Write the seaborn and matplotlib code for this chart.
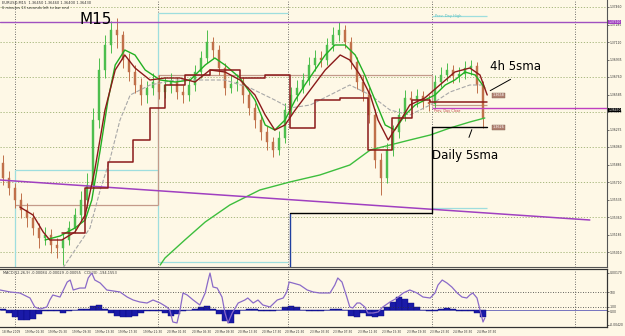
import numpy as np
import pandas as pd
import matplotlib
matplotlib.use("Agg")
import matplotlib.pyplot as plt
import seaborn as sns

sns.set_style("white")
plt.rcParams['font.family'] = ['DejaVu Sans']

# ---------------- data (time = hour index of the M15 chart) ----------------
first_open = 1.3590
close = [1.3575,1.3565,1.3553,1.3543,1.3535,1.3525,1.3515,1.3518,1.3508,1.3505,
         1.3513,1.3525,1.3538,1.3553,1.3568,1.3633,1.3683,1.3708,1.3723,1.3718,
         1.3693,1.3681,1.3668,1.3658,1.3665,1.3671,1.3661,1.3668,1.3671,1.3661,
         1.3658,1.3668,1.3681,1.3695,1.3711,1.3703,1.3685,1.3665,1.3669,1.3671,
         1.3658,1.3645,1.3633,1.3621,1.3611,1.3603,1.3615,1.3643,1.3658,1.3665,
         1.3673,1.3688,1.3695,1.3693,1.3708,1.3718,1.3723,1.3711,1.3691,1.3671,
         1.3661,1.3638,1.3593,1.3575,1.3603,1.3621,1.3638,1.3655,1.3653,1.3657,
         1.3651,1.3649,1.3671,1.3678,1.3683,1.3677,1.3679,1.3685,1.3687,1.3668,
         1.3635]
high = [1.3598,1.3582,1.3570,1.3560,1.3550,1.3541,1.3530,1.3526,1.3524,1.3515,
        1.3520,1.3532,1.3545,1.3562,1.3580,1.3645,1.3695,1.3718,1.3732,1.3735,
        1.3722,1.3700,1.3688,1.3675,1.3672,1.3680,1.3678,1.3676,1.3680,1.3676,
        1.3668,1.3675,1.3688,1.3702,1.3723,1.3716,1.3708,1.3690,1.3678,1.3679,
        1.3676,1.3662,1.3650,1.3638,1.3627,1.3616,1.3622,1.3650,1.3666,1.3673,
        1.3680,1.3696,1.3703,1.3702,1.3715,1.3726,1.3731,1.3728,1.3716,1.3696,
        1.3678,1.3666,1.3644,1.3600,1.3610,1.3628,1.3645,1.3663,1.3662,1.3664,
        1.3662,1.3658,1.3678,1.3686,1.3690,1.3688,1.3686,1.3692,1.3693,1.3691,
        1.3672]
low = [1.3568,1.3558,1.3545,1.3535,1.3526,1.3518,1.3505,1.3508,1.3500,1.3495,
       1.3488,1.3508,1.3520,1.3532,1.3545,1.3562,1.3625,1.3675,1.3700,1.3705,
       1.3685,1.3672,1.3660,1.3648,1.3650,1.3658,1.3654,1.3655,1.3660,1.3654,
       1.3650,1.3652,1.3662,1.3675,1.3690,1.3695,1.3678,1.3658,1.3660,1.3662,
       1.3650,1.3638,1.3625,1.3613,1.3603,1.3596,1.3598,1.3610,1.3638,1.3652,
       1.3660,1.3668,1.3682,1.3686,1.3688,1.3702,1.3712,1.3705,1.3684,1.3664,
       1.3652,1.3630,1.3585,1.3558,1.3570,1.3597,1.3615,1.3632,1.3645,1.3646,
       1.3644,1.3642,1.3645,1.3666,1.3672,1.3670,1.3671,1.3674,1.3678,1.3660,
       1.3625]

fast_t = [7,9.5,12,13.7,14.8,16.2,17.5,18.7,20.3,22,23.7,26.2,28.7,31.2,33.7,35.3,37,39.5,42,43.7,
          45.3,47,48.7,50.3,52,53.7,55.3,57,58.7,60.3,62,63.7,65.3,67,68.7,70.3,72,73.7,75.3,77,78.7,80.3]
fast_v = [1.3513,1.3517,1.3525,1.3533,1.3553,1.3603,1.3653,1.3688,1.3703,1.3698,1.3683,1.3673,1.3671,
          1.3673,1.3688,1.3695,1.3688,1.3675,1.3653,1.3628,1.3623,1.3633,1.3653,1.3668,1.3683,1.3698,
          1.3708,1.3708,1.3698,1.3678,1.3653,1.3628,1.3623,1.3638,1.3648,1.3653,1.3658,1.3668,1.3673,
          1.3681,1.3678,1.3665]

slow_t = [26.2,27,30.3,33.7,37.8,42.8,47.8,52.8,57.8,61.2,64.5,67.8,71.2,74.5,77.8,80.3]
slow_v = [1.3488,1.3495,1.3513,1.3531,1.3548,1.3563,1.3571,1.3578,1.3588,1.3603,1.3608,1.3613,
          1.3618,1.3625,1.3631,1.3635]

grey_t = [10,12,14.5,16.2,17.8,19.5,21.2,24.5,28.7,32.8,37,41.2,45.3,47.8,51.2,54.5,57.8,61.2,
          64.5,67.8,71.2,74.5,77.8,80.3]
grey_v = [1.3485,1.3503,1.3525,1.3563,1.3593,1.3633,1.3658,1.3668,1.3673,1.3673,1.3673,1.3665,
          1.3653,1.3645,1.3648,1.3658,1.3668,1.3658,1.3643,1.3638,1.3648,1.3661,1.3668,1.3668]

h4_t = [2.8,5,6.7,7.8,9.8,12,13.7,15.3,17,18.7,20.3,22,24.5,27,29.5,32,34.5,37,39.5,42,43.7,45.3,
        47,48.7,51.2,53.7,56.2,57.8,59.5,61.2,62.5,64.2,65.8,67.8,70.3,72.8,75.3,77.8,79.5,80.7]
h4_v = [1.3546,1.3538,1.3521,1.3513,1.3513,1.3521,1.3538,1.3583,1.3643,1.3683,1.3698,1.3685,1.3673,
        1.3675,1.3675,1.3671,1.3683,1.3681,1.3673,1.3658,1.3638,1.3623,1.3628,1.3643,1.3663,1.3683,
        1.3698,1.3693,1.3678,1.3658,1.3633,1.3613,1.3628,1.3648,1.3655,1.3668,1.3681,1.3685,1.3678,
        1.3658]

step_edges = [9.8,13.7,17.5,21.7,24.5,27,30.3,34.5,39.5,43.7,47.8,52,56.2,60.8,64.8,68.2,71.2,80.7]
step_levels = [1.3520,1.3565,1.3591,1.3613,1.3645,1.3668,1.3678,1.3683,1.3675,1.3678,1.3625,
               1.3653,1.3655,1.3603,1.3635,1.3653,1.3651]

daily_edges = [47.8, 71.5, 80.7]
daily_levels = [1.3540, 1.3626]

cyan_h = [(2, 25.8, 1.3583), (25.8, 47.5, 1.3740), (25.8, 47.5, 1.3491),
          (71.5, 80.7, 1.3737), (71.5, 80.7, 1.3545)]
cyan_v = [(2, 1.3486, 1.3583), (25.8, 1.3491, 1.3740)]
brown_h = [(2, 25.8, 1.3548), (25.8, 71.5, 1.3678), (71.5, 80.7, 1.3648)]
brown_v = [(25.8, 1.3548, 1.3678), (71.5, 1.3648, 1.3678)]

trend_t = [-0.5, 97.8]
trend_v = [1.3573, 1.3533]
resist_level = 1.3731
bid_level = 1.3645

day_breaks = [2, 25.8, 47.5, 71.5, 95.3]

macd = [0.0001,-0.0002,-0.0005,-0.0007,-0.0007,-0.0006,-0.0003,-0.0001,-0.00005,-0.0001,
        -0.0002,-0.0001,0.0,0.00005,0.0001,0.0003,0.00035,0.0001,-0.0002,-0.0004,
        -0.0005,-0.0005,-0.0004,-0.0002,-0.00005,-0.00005,-0.0001,-0.0002,-0.0004,-0.0003,
        -0.0001,0.0,0.00005,0.0002,0.00025,0.0001,-0.0003,-0.0008,-0.0009,-0.0003,
        0.0,0.0001,0.00005,-0.0001,-0.0001,-0.00005,0.0,0.0002,0.0003,0.0002,
        0.0,-0.00005,-0.0001,-0.00005,0.0,0.00005,0.0001,0.0,-0.0004,-0.0005,
        -0.0002,-0.0004,-0.0005,-0.0004,0.0002,0.0006,0.0009,0.0008,0.0005,0.0002,
        0.0,-0.0001,-0.00005,0.0001,0.00015,0.0001,-0.0001,-0.0001,-0.0001,-0.0002,
        -0.0005]

cci_t = [-0.5,1.2,2.8,4.5,5.3,6.2,7.3,7.8,8.3,9.5,10.7,11.2,11.7,12.8,13.7,14.2,14.8,15.3,16.2,17.3,
         19.5,20.7,21.7,22.8,24,25,26.2,27.3,27.8,28.3,29,29.5,30,30.7,31.7,32.8,33.7,34.2,34.5,35,
         35.7,36.5,37,37.5,38.2,39.2,40.3,40.8,41.7,42.5,43.3,44.5,45.7,46.7,47.3,47.7,48.3,49.5,50.7,51.7,
         52.8,54.5,55.3,55.8,56.5,57.3,57.8,58.3,59,59.5,60.3,60.8,61.7,62.5,63.3,64.5,65.7,66.7,67.8,69,
         70,71.2,72,72.5,73.2,74,74.8,75.7,76.5,77.3,77.8,78.3,79,79.5,80,80.3]
cci_v = [127,100,87,20,-100,-127,-100,-7,60,33,233,260,127,153,153,287,353,260,220,127,
         100,33,-7,-33,-47,-7,-47,-100,-140,-300,-313,-140,87,60,-7,-73,87,260,353,167,
         153,33,-180,-313,-180,-47,-7,20,-47,-7,-73,-100,-7,20,100,233,220,193,127,100,
         87,87,193,287,233,33,-100,-113,-47,-47,-100,-180,-180,-167,-100,-33,20,87,127,87,
         33,20,87,193,260,220,167,87,33,20,60,87,20,-140,-300,-247]

date_t = [-0.2,3.7,7.5,11.5,15.3,19.2,23.3,27.3,31.5,35.3,39.2,43.2,47,51.2,55,59.2,63.2,67.3,71.2,75,79]
date_labels = ["18 Mar 2009","19 Mar 01:30","19 Mar 05:30","19 Mar 09:30","19 Mar 13:30",
               "19 Mar 17:30","19 Mar 21:30","20 Mar 01:30","20 Mar 05:30","20 Mar 09:30",
               "20 Mar 13:30","20 Mar 17:30","20 Mar 21:30","23 Mar 03:30","23 Mar 07:30",
               "23 Mar 11:30","23 Mar 15:30","23 Mar 19:30","23 Mar 23:30","24 Mar 03:30",
               "24 Mar 07:30"]
price_ticks = [1.37460,1.37285,1.37110,1.36935,1.36760,1.36585,1.36410,1.36235,1.36060,
               1.35885,1.35710,1.35535,1.35360,1.35185,1.35010]

# ---------------- styling ----------------
BG = "#FEF8E6"
BULL = "#4DBE4D"
BEAR = "#C0704A"
DARKRED = "#8B1A1A"
GREEN = "#22B022"
SMALL = 2.2
W = 607 / 625
# pixel 0 -> -0.5, pixel 3+6k -> candle k ; right spine at pixel 607
XMIN, XMAX = -0.5, (607 - 3) / 6

fig = plt.figure(figsize=(6.25, 3.36), dpi=100, facecolor=BG)
ax = fig.add_axes([0.0, 1 - 267/336, W, 267/336], facecolor=BG)
axi = fig.add_axes([0.0, 1 - 327/336, W, 58/336], facecolor=BG)

# ---------- main price panel ----------
opens = [first_open] + close[:-1]
df = pd.DataFrame({"t": np.arange(len(close)), "open": opens, "close": close,
                   "high": high, "low": low})
up = df["close"] >= df["open"]
cols = np.where(up, BULL, BEAR)

for p in price_ticks[::2]:
    ax.axhline(p, color="#9DB070", lw=0.6, ls=(0, (1.5, 2)), zorder=0)
for d in day_breaks:
    ax.axvline(d, color="#444444", lw=0.6, ls=(0, (1, 2)), zorder=0)
    axi.axvline(d, color="#444444", lw=0.6, ls=(0, (1, 2)), zorder=0)

for t0, t1, p in cyan_h:
    ax.hlines(p, t0, t1, color="#9EDEDE", lw=0.9, zorder=1)
for t, p0, p1 in cyan_v:
    ax.vlines(t, p0, p1, color="#9EDEDE", lw=0.9, zorder=1)
for t0, t1, p in brown_h:
    ax.hlines(p, t0, t1, color="#C49A8A", lw=0.9, zorder=1)
for t, p0, p1 in brown_v:
    ax.vlines(t, p0, p1, color="#C49A8A", lw=0.9, zorder=1)

ax.vlines(df["t"], df["low"], df["high"], colors=cols, lw=0.7, zorder=2)
body = (df["close"] - df["open"]).abs().clip(lower=0.00008)
ax.bar(df["t"], body, bottom=df[["open", "close"]].min(axis=1), width=0.45,
       color=cols, edgecolor=cols, lw=0.3, zorder=2)

sns.lineplot(x=grey_t, y=grey_v, ax=ax, color="#A8A8A8", lw=0.8, linestyle="--",
             estimator=None, sort=False, zorder=3)
sns.lineplot(x=slow_t, y=slow_v, ax=ax, color="#3DBE3D", lw=1.0,
             estimator=None, sort=False, zorder=3)
sns.lineplot(x=fast_t, y=fast_v, ax=ax, color=GREEN, lw=1.0,
             estimator=None, sort=False, zorder=3)
sns.lineplot(x=h4_t, y=h4_v, ax=ax, color=DARKRED, lw=1.0,
             estimator=None, sort=False, zorder=4)
ax.step(step_edges, step_levels + [step_levels[-1]], where="post", color=DARKRED, lw=1.1, zorder=4)

ax.vlines(daily_edges[0], 1.3486, daily_levels[0], color="#2040A0", lw=1.0, zorder=4)
ax.step(daily_edges, daily_levels + [daily_levels[-1]], where="post", color="black", lw=1.0, zorder=4)

ax.axhline(resist_level, color="#A050C0", lw=1.0, zorder=3)
ax.hlines(bid_level, 71.5, XMAX, color="#C040C0", lw=1.0, zorder=3)
sns.lineplot(x=trend_t, y=trend_v, ax=ax, color="#A040C0", lw=1.1,
             estimator=None, sort=False, zorder=3)

ax.set_xlim(XMIN, XMAX)
ax.set_ylim(1.3486, 1.3753)
ax.set_xticks([])
ax.yaxis.tick_right()
ax.set_yticks(price_ticks)
ax.set_yticklabels([f"{p:.5f}" for p in price_ticks])
ax.tick_params(axis="y", labelsize=SMALL, length=1.5, width=0.5, pad=0.5, colors="#333333")
ax.set_xlabel("")
ax.set_ylabel("")
for s in ["left", "top"]:
    ax.spines[s].set_visible(False)
for s in ["right", "bottom"]:
    ax.spines[s].set_color("#555555")
    ax.spines[s].set_linewidth(0.8)

ax.annotate("1.37310", xy=(1.002, resist_level), xycoords=("axes fraction", "data"),
            fontsize=SMALL, color="white", va="center", ha="left",
            bbox=dict(boxstyle="square,pad=0.12", fc="#A040C0", ec="none"), annotation_clip=False)
ax.annotate("1.36430", xy=(1.002, 1.3643), xycoords=("axes fraction", "data"),
            fontsize=SMALL, color="white", va="center", ha="left",
            bbox=dict(boxstyle="square,pad=0.12", fc="black", ec="none"), annotation_clip=False)

ax.text(81.6, 1.3658, "1.3658", fontsize=2.4, color="white", va="center",
        bbox=dict(boxstyle="square,pad=0.15", fc="#B08070", ec="#806050", lw=0.3))
ax.text(81.6, 1.3626, "1.3626", fontsize=2.4, color="white", va="center",
        bbox=dict(boxstyle="square,pad=0.15", fc="#B08070", ec="#806050", lw=0.3))
ax.text(72.0, 1.3735, "Prev. Day High", fontsize=2.6, color="#60C0C0", va="bottom")
ax.text(71.8, 1.3644, "Prev. Day Close", fontsize=2.4, color="#C04040", va="top")

ax.text(12.8, 1.3733, "M15", fontsize=11, color="black", va="center", ha="left")
ax.text(81.2, 1.3686, "4h 5sma", fontsize=8.5, color="black", va="center", ha="left")
ax.annotate("", xy=(80.8, 1.3661), xytext=(85.0, 1.3675),
            arrowprops=dict(arrowstyle="-", color="black", lw=0.7))
ax.text(71.5, 1.3598, "Daily 5sma", fontsize=8.5, color="black", va="center", ha="left")
ax.annotate("", xy=(78.3, 1.3626), xytext=(77.5, 1.3613),
            arrowprops=dict(arrowstyle="-", color="black", lw=0.7))

fig.text(2/625, 1 - 1/336, "EURUSD,M15  1.36450 1.36460 1.36400 1.36430", fontsize=2.6,
         va="top", ha="left", color="#333333")
fig.text(2/625, 1 - 6/336, "6 minutes 13 seconds left to bar end", fontsize=2.6,
         va="top", ha="left", color="#333333")

# ---------- indicator panel ----------
axi.axhline(0, color="#1010A0", lw=0.4, zorder=1)
axi.bar(np.arange(len(macd)), macd, width=1.0, color="#1A1AA8", edgecolor="#0A0A80", lw=0.3, zorder=2)
axi.set_ylim(-0.0012, 0.0029)
axi.set_xlim(XMIN, XMAX)
axi.set_yticks([])

axc = axi.twinx()
axc.axhline(100, color="#333333", lw=0.6, ls=(0, (1, 2)))
axc.axhline(-100, color="#333333", lw=0.6, ls=(0, (1, 2)))
sns.lineplot(x=cci_t, y=cci_v, ax=axc, color="#8A6AC8", lw=0.9, estimator=None, sort=False)
axc.set_ylim(-367, 407)
axc.set_xlim(XMIN, XMAX)
axc.set_yticks([360, 100, -100, -160, -340])
axc.set_yticklabels(["0.00170", "100", "-100", "0.00", "-0.00420"])
axc.tick_params(axis="y", labelsize=SMALL, length=1.5, width=0.5, pad=0.5, colors="#333333")
axc.set_ylabel("")

axi.set_xticks(date_t)
axi.set_xticklabels(date_labels, ha="left")
axi.tick_params(axis="x", labelsize=2.1, length=1.5, width=0.5, pad=1, colors="#333333")
for a in (axi, axc):
    for s in a.spines.values():
        s.set_color("#333333")
        s.set_linewidth(0.8)
    a.spines["left"].set_visible(False)
axi.text(0.005, 0.97, "MACD(12,26,9) -0.00084 -0.00029 -0.00055   CCI(20) -194.1553",
         transform=axi.transAxes, fontsize=2.5, va="top", ha="left", color="#333333")

fig.savefig("out.png", dpi=100, facecolor=BG)
